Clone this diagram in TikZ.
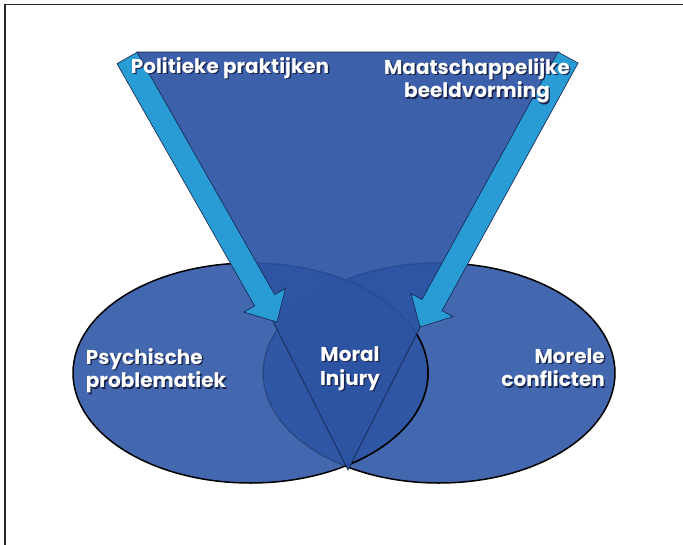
\documentclass[tikz,border=0pt]{standalone}
\usepackage{fontspec}
\newfontfamily\labelfont{Poppins}
\usetikzlibrary{calc}
\definecolor{EllipseBlue}{rgb}{0.267, 0.408, 0.69}
\definecolor{LensBlue}{rgb}{0.19, 0.34, 0.65}
\definecolor{FunnelBlue}{rgb}{0.176, 0.325, 0.64}
\definecolor{ArrowBlue}{rgb}{0.16, 0.61, 0.84}
\definecolor{EdgeNavy}{rgb}{0.08, 0.13, 0.28}
\definecolor{ShadowNavy}{rgb}{0.1, 0.14, 0.3}

% white text with a dark drop shadow
\newcommand{\shline}[1]{\rlap{\kern1.4pt\raisebox{-1.4pt}{\textcolor{ShadowNavy}{#1}}}#1}

% block arrow from tail centre to tip
\newcommand{\blockarrow}[2]{%
  \coordinate (#1-h) at ($(#2)!25pt!(#1)$);
  \filldraw[arrowbody] ($(#1)!11.5pt!90:(#2)$) -- ($(#1-h)!11.5pt!-90:(#1)$)
    -- ($(#1-h)!24pt!-90:(#1)$) -- (#2) -- ($(#1-h)!24pt!90:(#1)$)
    -- ($(#1-h)!11.5pt!90:(#1)$) -- ($(#1)!11.5pt!-90:(#2)$) -- cycle;}

\begin{document}
\begin{tikzpicture}[x=1pt, y=-1pt, font=\labelfont\bfseries\fontsize{20}{23.5}\selectfont,
  venn/.style={fill=EllipseBlue, draw=black, line width=1.5pt},
  arrowbody/.style={fill=ArrowBlue, draw=EdgeNavy, line width=0.6pt},
  tagtext/.style={text=white, inner sep=0pt}]

\useasboundingbox (0,0) rectangle (683,544);
\clip (0,0) rectangle (683,544);
\fill[white] (0,0) rectangle (683,544);

% kader
\draw[black!85, line width=1.5pt] (5,4.5) rectangle (700,560);

% --- ellipsen ---
\filldraw[venn] (439,373) ellipse [x radius=176pt, y radius=110pt];
\filldraw[venn] (250.5,373) ellipse [x radius=177.5pt, y radius=110pt];
\begin{scope}
  \clip (439,373) ellipse [x radius=176pt, y radius=110pt];
  \fill[LensBlue] (250.5,373) ellipse [x radius=177.5pt, y radius=110pt];
  \draw[black, line width=1.5pt] (250.5,373) ellipse [x radius=177.5pt, y radius=110pt];
\end{scope}
\begin{scope}
  \clip (250.5,373) ellipse [x radius=177.5pt, y radius=110pt];
  \draw[black, opacity=0.2, line width=1.5pt] (439,373) ellipse [x radius=176pt, y radius=110pt];
\end{scope}

% --- trechter ---
\filldraw[fill=FunnelBlue, fill opacity=0.92, draw=EdgeNavy, line width=0.6pt]
    (137,52) -- (559,52) -- (348,470) -- cycle;

% --- pijlen ---
\coordinate (politail) at (127,58);
\coordinate (polihead) at (277,322);
\blockarrow{politail}{polihead}
\coordinate (maattail) at (568,57.5);
\coordinate (maathead) at (420,327);
\blockarrow{maattail}{maathead}

% --- teksten ---
\node[tagtext, anchor=base] (polit) at (230,73.3) {\shline{Politieke praktijken}};
\node[tagtext, align=center, anchor=north] (maat) at (477,58.2)
    {\shline{Maatschappelijke}\\\shline{beeldvorming}};
\node[tagtext, align=left, anchor=north west] (psych) at (85.7,348.2)
    {\shline{Psychische}\\\shline{problematiek}};
\node[tagtext, align=center, anchor=north] (moral) at (350,346.5)
    {\shline{Moral}\\\shline{Injury}};
\node[tagtext, align=right, anchor=north east] (morele) at (605,348.2)
    {\shline{Morele}\\\shline{conflicten}};

\end{tikzpicture}
\end{document}
